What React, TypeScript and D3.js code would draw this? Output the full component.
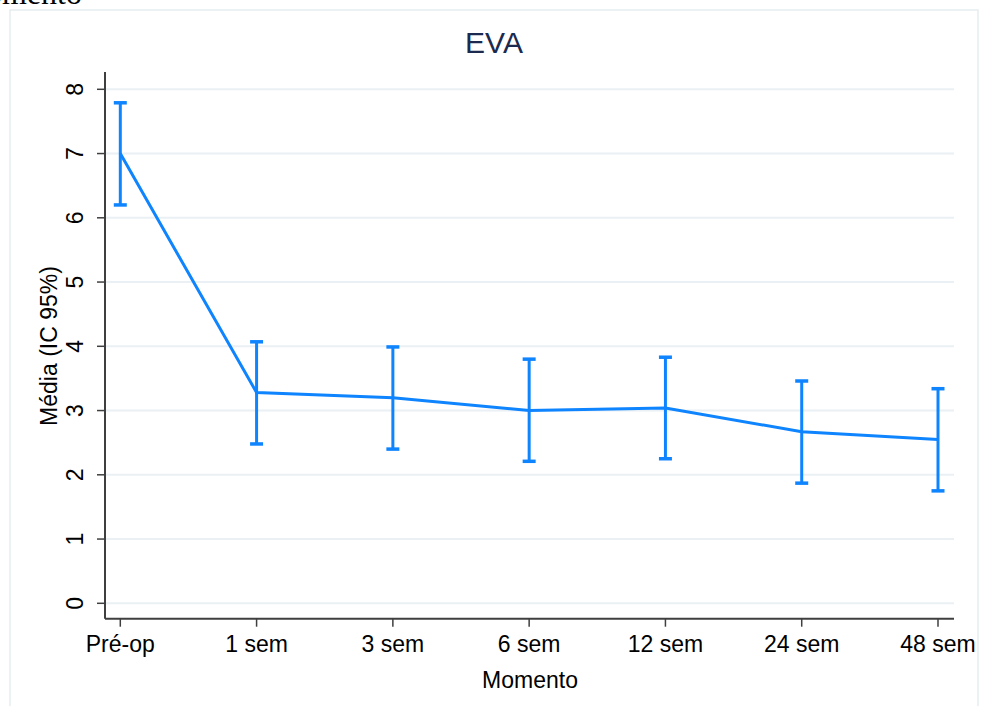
import * as d3 from 'd3';
import React from 'react';

// EVA por momento: média e IC 95%
const momentos = ['Pré-op', '1 sem', '3 sem', '6 sem', '12 sem', '24 sem', '48 sem'];
const media = [7.0, 3.28, 3.2, 3.0, 3.04, 2.67, 2.55];
const icInf = [6.2, 2.48, 2.4, 2.21, 2.25, 1.87, 1.75];
const icSup = [7.79, 4.07, 3.99, 3.8, 3.83, 3.46, 3.34];
const yTicks = [0, 1, 2, 3, 4, 5, 6, 7, 8];

const W = 981;
const H = 706;
const blue = '#0f84ff';
const axisColor = '#3f3f3f';
const font = '"Liberation Sans", Arial, Helvetica, sans-serif';

const x = d3.scalePoint<string>().domain(momentos).range([120.3, 938]);
const y = d3.scaleLinear().domain([0, 8]).range([603.3, 89.3]);

const line = d3.line<number>()
  .x((d, i) => x(momentos[i]) as number)
  .y(d => y(d));

export default function App() {
  const left = 105;
  const right = 954;
  const base = 618.7;
  return (
    <svg width={W} height={H} style={{position: 'absolute', left: 0, top: 0, background: '#fff'}}>
      {/* serif caption text, cut by the top of the page as in the source */}
      <text x={82} y={4} textAnchor="end" fontFamily="'Liberation Serif', 'Times New Roman', serif" fontSize={32} fill="#000">Momento</text>
      <rect x={10} y={10} width={968} height={720} fill="#fff" stroke="#e6edf0" strokeWidth={1.5} />
      <text x={494} y={53} textAnchor="middle" fontFamily={font} fontSize={30} fill="#1b2a4e">EVA</text>

      {/* grid */}
      {yTicks.map(t => (
        <line key={'g' + t} x1={left} x2={right} y1={y(t)} y2={y(t)} stroke="#eaf0f3" strokeWidth={2} />
      ))}

      {/* y axis */}
      <line x1={left} x2={left} y1={72} y2={base} stroke={axisColor} strokeWidth={2} />
      {yTicks.map(t => (
        <g key={'y' + t}>
          <line x1={left - 8} x2={left} y1={y(t)} y2={y(t)} stroke={axisColor} strokeWidth={1.5} />
          <text transform={`translate(${83},${y(t)}) rotate(-90)`} textAnchor="middle"
            fontFamily={font} fontSize={23} fill="#000">{t}</text>
        </g>
      ))}
      <text transform={`translate(${57},${346}) rotate(-90)`} textAnchor="middle"
        fontFamily={font} fontSize={23} fill="#000">Média (IC 95%)</text>

      {/* x axis */}
      <line x1={left} x2={right} y1={base} y2={base} stroke={axisColor} strokeWidth={2} />
      {momentos.map(m => (
        <g key={'x' + m}>
          <line x1={x(m)} x2={x(m)} y1={base} y2={base + 8} stroke={axisColor} strokeWidth={1.5} />
          <text x={x(m)} y={652} textAnchor="middle" fontFamily={font} fontSize={23} fill="#000">{m}</text>
        </g>
      ))}
      <text x={530} y={688} textAnchor="middle" fontFamily={font} fontSize={23} fill="#000">Momento</text>

      {/* error bars */}
      {momentos.map((m, i) => {
        const cx = x(m) as number;
        return (
          <g key={'e' + m} stroke={blue} strokeWidth={3}>
            <line x1={cx} x2={cx} y1={y(icInf[i])} y2={y(icSup[i])} />
            <line x1={cx - 6.5} x2={cx + 6.5} y1={y(icInf[i])} y2={y(icInf[i])} strokeWidth={3.5} />
            <line x1={cx - 6.5} x2={cx + 6.5} y1={y(icSup[i])} y2={y(icSup[i])} strokeWidth={3.5} />
          </g>
        );
      })}
      <path d={line(media) || ''} fill="none" stroke={blue} strokeWidth={3} />
    </svg>
  );
}
